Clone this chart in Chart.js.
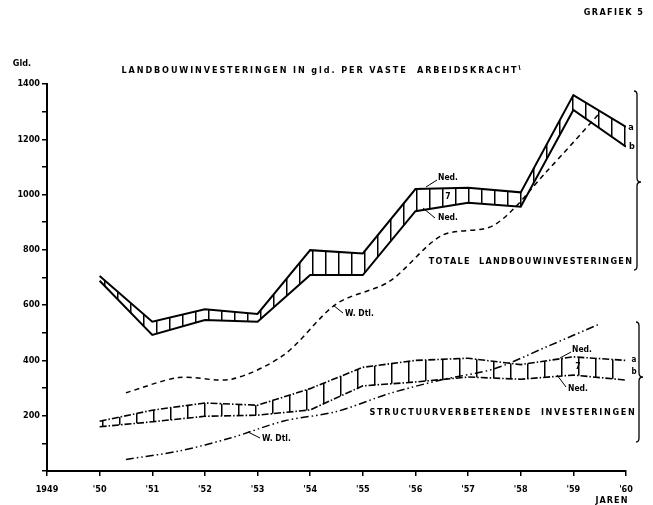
<!DOCTYPE html>
<html>
<head>
<meta charset="utf-8">
<script src="https://cdn.jsdelivr.net/npm/chart.js@4.4.1/dist/chart.umd.min.js"></script>
<style>
  html, body { margin: 0; padding: 0; background: #fff; }
  #wrap { width: 653px; height: 505px; }
</style>
</head>
<body>
<div id="wrap"><canvas id="c" width="653" height="505"></canvas></div>
<script>
// ---- data ----
const years = [1950, 1951, 1952, 1953, 1954, 1955, 1956, 1957, 1958, 1959, 1960];
const totaleNedA = [705, 540, 585, 568, 799, 787, 1020, 1025, 1008, 1360, 1245];
const totaleNedB = [688, 492, 546, 540, 709, 709, 940, 970, 956, 1306, 1173];
const structNedA = [180, 220, 246, 238, 298, 375, 400, 408, 385, 413, 400];
const structNedB = [160, 178, 198, 202, 221, 308, 322, 340, 332, 347, 329];
const wdtlYears = [1950.5, 1951.5, 1952.5, 1953.5, 1954.5, 1955.5, 1956.5, 1957.5, 1958.5, 1959.5];
const totaleWDtl = [283, 338, 332, 420, 605, 685, 852, 890, 1085, 1295];
const structWDtl = [42, 72, 120, 181, 215, 280, 330, 370, 450, 532];
const xTickLabels = ['1949', "'50", "'51", "'52", "'53", "'54", "'55", "'56", "'57", "'58", "'59", "'60"];
const yTickLabels = ['200', '400', '600', '800', '1000', '1200', '1400'];

const FONT = "'DejaVu Sans Condensed', 'DejaVu Sans', sans-serif";

function pts(xs, ys) { return xs.map((x, i) => ({ x: x, y: ys[i] })); }
function hatch(spacing, lw) {
  const c = document.createElement('canvas');
  c.width = spacing; c.height = 8;
  const g = c.getContext('2d');
  g.fillStyle = '#000';
  g.fillRect(0, 0, lw, 8);
  return g.createPattern(c, 'repeat');
}

const annot = {
  id: 'annot',
  afterDraw(chart) {
    const ctx = chart.ctx;
    ctx.save();
    ctx.fillStyle = '#000';
    ctx.strokeStyle = '#000';
    ctx.textBaseline = 'middle';
    function txt(s, x, y, size, align, spacing) {
      ctx.font = 'bold ' + size + 'px ' + FONT;
      ctx.textAlign = align || 'left';
      ctx.letterSpacing = (spacing || 0) + 'px';
      ctx.fillText(s, x, y);
    }
    function line(x1, y1, x2, y2, w) {
      ctx.lineWidth = w || 1;
      ctx.beginPath(); ctx.moveTo(x1, y1); ctx.lineTo(x2, y2); ctx.stroke();
    }
    txt('GRAFIEK 5', 614, 13, 9, 'center', 1.4);
    txt('Gld.', 22, 64, 9, 'center', 0);
    txt('LANDBOUWINVESTERINGEN IN gld. PER VASTE  ARBEIDSKRACHT', 320, 71, 9, 'center', 1.9);
    line(519, 65, 520, 70, 1);
    txt('JAREN', 612, 501, 9, 'center', 1);
    txt('TOTALE  LANDBOUWINVESTERINGEN', 531, 262, 9, 'center', 1.3);
    txt('STRUCTUURVERBETERENDE  INVESTERINGEN', 503, 413, 9, 'center', 1.7);
    // band labels
    txt('a', 631, 128, 9, 'center', 0);
    txt('b', 632, 147, 9, 'center', 0);
    txt('a', 634, 360, 8, 'center', 0);
    txt('b', 634, 372, 8, 'center', 0);
    txt('Ned.', 448, 178, 8.5, 'center', 0);
    line(426, 187, 437, 180, 1);
    txt('Ned.', 448, 218, 8.5, 'center', 0);
    line(423, 208, 435, 218, 1);
    txt('7', 448, 197, 8.5, 'center', 0);
    txt('Ned.', 582, 350, 8.5, 'center', 0);
    line(560, 358, 571, 352, 1);
    txt('Ned.', 578, 389, 8.5, 'center', 0);
    line(557, 375, 566, 387, 1);
    txt('7', 578, 367, 8.5, 'center', 0);
    txt('W. Dtl.', 345, 314, 8.5, 'left', 0);
    line(333, 305, 343, 313, 1);
    txt('W. Dtl.', 262, 439, 8.5, 'left', 0);
    line(248, 432, 260, 438, 1);
    // braces
    function brace(x, y1, ym, y2) {
      ctx.lineWidth = 1.3;
      ctx.beginPath();
      ctx.moveTo(x - 3, y1);
      ctx.quadraticCurveTo(x, y1, x, y1 + 4);
      ctx.lineTo(x, ym - 4);
      ctx.quadraticCurveTo(x, ym, x + 4, ym);
      ctx.quadraticCurveTo(x, ym, x, ym + 4);
      ctx.lineTo(x, y2 - 4);
      ctx.quadraticCurveTo(x, y2, x - 3, y2);
      ctx.stroke();
    }
    brace(637, 91, 182, 270);
    brace(639, 322, 377, 442);
    ctx.restore();
  }
};

const black = '#000';
new Chart(document.getElementById('c'), {
  type: 'line',
  data: {
    datasets: [
      { label: 'Totale Ned. a', data: pts(years, totaleNedA), borderColor: black, borderWidth: 2,
        pointRadius: 0, tension: 0, fill: '+1', backgroundColor: hatch(13, 1.5) },
      { label: 'Totale Ned. b', data: pts(years, totaleNedB), borderColor: black, borderWidth: 2,
        pointRadius: 0, tension: 0, fill: false },
      { label: 'Structuur Ned. a', data: pts(years, structNedA), borderColor: black, borderWidth: 1.6,
        borderDash: [7, 2, 1.5, 2], pointRadius: 0, tension: 0, fill: '+1', backgroundColor: hatch(17, 1.5) },
      { label: 'Structuur Ned. b', data: pts(years, structNedB), borderColor: black, borderWidth: 1.6,
        borderDash: [7, 2, 1.5, 2], pointRadius: 0, tension: 0, fill: false },
      { label: 'Totale W. Dtl.', data: pts(wdtlYears, totaleWDtl), borderColor: black, borderWidth: 1.5,
        borderDash: [5, 4], pointRadius: 0, tension: 0.3, fill: false },
      { label: 'Structuur W. Dtl.', data: pts(wdtlYears, structWDtl), borderColor: black, borderWidth: 1.5,
        borderDash: [8, 3, 1.5, 3, 1.5, 3], pointRadius: 0, tension: 0.3, fill: false }
    ]
  },
  options: {
    responsive: false,
    animation: false,
    devicePixelRatio: 1,
    layout: { padding: { left: 0, right: 27, top: 84, bottom: 0 } },
    plugins: { legend: { display: false }, tooltip: { enabled: false }, filler: { propagate: false } },
    scales: {
      x: {
        type: 'linear', min: 1949, max: 1960,
        afterFit(s) { s.height = 34; },
        border: { display: true, color: black, width: 2 },
        grid: { display: true, drawOnChartArea: false, drawTicks: true, tickLength: 5, color: black, lineWidth: 1.5 },
        ticks: {
          stepSize: 1, maxRotation: 0, autoSkip: false, padding: 8, color: black,
          font: { family: FONT, size: 9, weight: 'bold' },
          callback: (v) => xTickLabels[Math.round(v - 1949)]
        }
      },
      y: {
        type: 'linear', min: 0, max: 1400,
        afterFit(s) { s.width = 47; },
        border: { display: true, color: black, width: 2 },
        grid: { display: true, drawOnChartArea: false, drawTicks: true, tickLength: 5, color: black, lineWidth: 1.5 },
        ticks: {
          stepSize: 100, autoSkip: false, padding: 2, color: black,
          font: { family: FONT, size: 9, weight: 'bold' },
          callback: (v) => (v > 0 && v % 200 === 0) ? yTickLabels[v / 200 - 1] : ''
        }
      }
    }
  },
  plugins: [annot]
});
</script>
</body>
</html>
